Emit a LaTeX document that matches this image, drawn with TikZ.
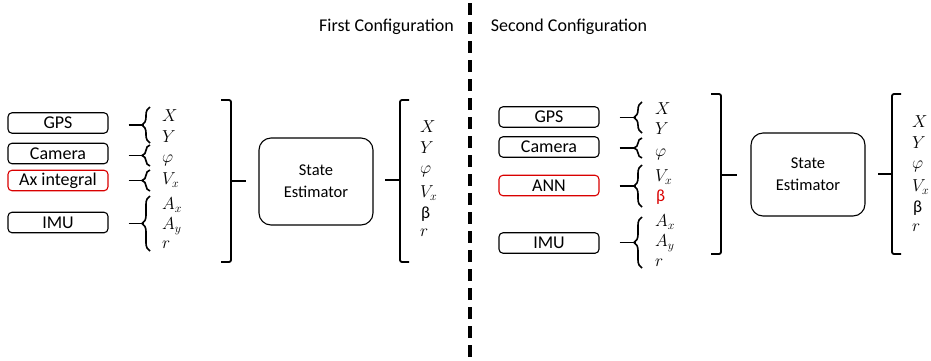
\documentclass[tikz,border=0pt]{standalone}
\usepackage{fontspec}
\setmainfont{Carlito}
\usetikzlibrary{decorations.pathreplacing}
\begin{document}
\begin{tikzpicture}[x=1pt,y=-1pt,
  srcbox/.style={draw, line width=1.1pt, rounded corners=4pt, minimum width=100pt, minimum height=20.5pt, inner sep=0pt, font=\fontsize{18}{20}\selectfont},
  redbox/.style={srcbox, draw=red!85!black},
  estbox/.style={draw, line width=1.1pt, rounded corners=12pt, align=center, inner sep=0pt, font=\fontsize{16.5}{22}\selectfont},
  conn/.style={line width=1.8pt},
  brc/.style={decorate, decoration={brace, amplitude=8pt}, line width=1.6pt},
  bigbr/.style={line width=1.8pt, rounded corners=2pt},
  lab/.style={anchor=west, inner sep=0pt, font=\fontsize{17}{19}\selectfont},
  title/.style={font=\fontsize{18}{20}\selectfont, inner sep=0pt},
  sep/.style={line width=3.3pt, dash pattern=on 12pt off 7pt}
]
\useasboundingbox (0,0) rectangle (931,360);

% separator
\coordinate (st) at (470,3);
\coordinate (sb) at (470,360);
\draw[sep] (st) -- (sb);

\node[title] (t1) at (386.5,27) {First Configuration};
\node[title] (t2) at (569,27) {Second Configuration};

% ================= First configuration =================
\node[srcbox] (gps1) at (58,123) {GPS};
\node[srcbox] (cam1) at (58,153.5) {Camera};
\node[redbox] (ax1) at (58,180.5) {Ax integral};
\node[srcbox] (imu1) at (58,222.5) {IMU};

\draw[brc] (150,143) -- (150,107);
\draw[brc] (150,166) -- (150,145);
\draw[brc] (150,191) -- (150,170);
\draw[brc] (150,251) -- (150,196);
\coordinate (b1a) at (144,125);
\coordinate (b1b) at (144,155.5);
\coordinate (b1c) at (144,180.5);
\coordinate (b1d) at (144,223.5);
\draw[conn] (gps1.east) ++(20,2) coordinate (g1s) -- (b1a);
\draw[conn] (cam1.east) ++(20,2) coordinate (c1s) -- (b1b);
\draw[conn] (ax1.east) ++(20,0) coordinate (a1s) -- (b1c);
\draw[conn] (imu1.east) ++(20,1) coordinate (i1s) -- (b1d);

\node[lab] (l1x) at (162,116) {$X$};
\node[lab] (l1y) at (162,137) {$Y$};
\node[lab] (l1p) at (162,160) {$\varphi$};
\node[lab] (l1v) at (162,180) {$V_x$};
\node[lab] (l1ax) at (162,205) {$A_x$};
\node[lab] (l1ay) at (162,226) {$A_y$};
\node[lab] (l1r) at (162,245) {$r$};

\draw[bigbr] (221,100) -- (231,100) -- (231,262) -- (221,262);
\coordinate (m1l) at (231,181);
\coordinate (m1r) at (246,181);
\draw[conn] (m1l) -- (m1r);

\node[estbox, minimum width=114pt, minimum height=87pt] (se1) at (316,181.5) {State\\Estimator};

\draw[bigbr] (409,100) -- (400,100) -- (400,262) -- (409,262);
\coordinate (o1l) at (385,180);
\coordinate (o1r) at (400,180);
\draw[conn] (o1l) -- (o1r);

\node[lab] (o1x) at (420,127) {$X$};
\node[lab] (o1y) at (420,148) {$Y$};
\node[lab] (o1p) at (420,171) {$\varphi$};
\node[lab] (o1v) at (420,193) {$V_x$};
\node[lab] (o1b) at (421,214) {β};
\node[lab] (o1r) at (420,233) {$r$};

% ================= Second configuration =================
\node[srcbox] (gps2) at (549,117) {GPS};
\node[srcbox] (cam2) at (549,147) {Camera};
\node[redbox] (ann2) at (549,185.5) {ANN};
\node[srcbox] (imu2) at (549,243) {IMU};

\draw[brc] (642,133) -- (642,102);
\draw[brc] (642,158) -- (642,138);
\draw[brc] (642,207) -- (642,165);
\draw[brc] (642,268) -- (642,217);
\coordinate (b2a) at (636,117.5);
\coordinate (b2b) at (636,148);
\coordinate (b2c) at (636,186);
\coordinate (b2d) at (636,242.5);
\draw[conn] (gps2.east) ++(20,0.5) coordinate (g2s) -- (b2a);
\draw[conn] (cam2.east) ++(20,1) coordinate (c2s) -- (b2b);
\draw[conn] (ann2.east) ++(20,0.5) coordinate (a2s) -- (b2c);
\draw[conn] (imu2.east) ++(20,-0.5) coordinate (i2s) -- (b2d);

\node[lab] (l2x) at (655,109) {$X$};
\node[lab] (l2y) at (655,129) {$Y$};
\node[lab] (l2p) at (655,154) {$\varphi$};
\node[lab] (l2v) at (655,177) {$V_x$};
\node[lab, text=red!85!black] (l2b) at (656,197) {β};
\node[lab] (l2ax) at (655,222) {$A_x$};
\node[lab] (l2ay) at (655,243) {$A_y$};
\node[lab] (l2r) at (655,263) {$r$};

\draw[bigbr] (711,94) -- (721,94) -- (721,254) -- (711,254);
\coordinate (m2l) at (721,175);
\coordinate (m2r) at (737,175);
\draw[conn] (m2l) -- (m2r);

\node[estbox, minimum width=114pt, minimum height=83pt] (se2) at (808,174.5) {State\\Estimator};

\draw[bigbr] (901,94) -- (892,94) -- (892,254) -- (901,254);
\coordinate (o2l) at (878,174);
\coordinate (o2r) at (892,174);
\draw[conn] (o2l) -- (o2r);

\node[lab] (q2x) at (912,122) {$X$};
\node[lab] (q2y) at (912,143) {$Y$};
\node[lab] (q2p) at (912,166) {$\varphi$};
\node[lab] (q2v) at (912,187) {$V_x$};
\node[lab] (q2b) at (913,208) {β};
\node[lab] (q2r) at (912,228) {$r$};
\end{tikzpicture}
\end{document}
